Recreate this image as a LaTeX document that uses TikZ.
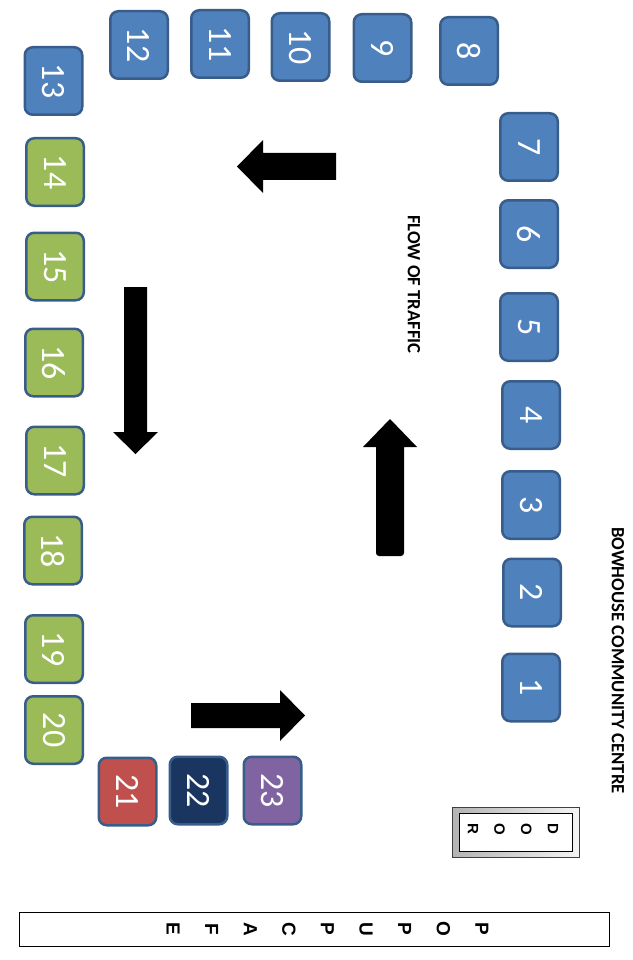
\documentclass[tikz,border=0pt]{standalone}
\usepackage{fontspec}
\setmainfont{Carlito}
\newfontfamily\stackfont{Liberation Sans}
\usetikzlibrary{shadows}
\definecolor{tblue}{HTML}{4F81BD}
\definecolor{tedge}{HTML}{385D8A}
\definecolor{tgreen}{HTML}{9BBB59}
\definecolor{tred}{HTML}{C0504D}
\definecolor{tnavy}{HTML}{1A3660}
\definecolor{tpurple}{HTML}{8064A2}
\begin{document}
\begin{tikzpicture}[x=1pt,y=-1pt,
  stall/.style={rotate=-90, draw=tedge, line width=2.5pt, rounded corners=8pt,
    minimum width=67.5pt, minimum height=57.5pt, inner sep=0pt,
    text=white, font=\fontsize{34}{34}\selectfont},
  bluestall/.style={stall, fill=tblue},
  greenstall/.style={stall, fill=tgreen},
  redstall/.style={stall, fill=tred},
  navystall/.style={stall, fill=tnavy},
  purplestall/.style={stall, fill=tpurple},
  sidetext/.style={rotate=-90, font=\bfseries\fontsize{18.7}{20}\selectfont, inner sep=0pt},
  blockarrow/.style={fill=black, draw=none}]
\useasboundingbox (0,0) rectangle (632,960);

% stalls along the right wall
\node[bluestall] (s1) at (531,687.5) {1};
\node[bluestall] (s2) at (532,592.5) {2};
\node[bluestall] (s3) at (531,505) {3};
\node[bluestall] (s4) at (531,415) {4};
\node[bluestall] (s5) at (529,327) {5};
\node[bluestall] (s6) at (529,234) {6};
\node[bluestall] (s7) at (529,147) {7};
% stalls along the top wall
\node[bluestall] (s8) at (469,51) {8};
\node[bluestall] (s9) at (382.5,48) {9};
\node[bluestall] (s10) at (300.5,47) {10};
\node[bluestall] (s11) at (220,44) {11};
\node[bluestall] (s12) at (139,45) {12};
\node[bluestall] (s13) at (53.5,81) {13};
% stalls along the left wall
\node[greenstall] (s14) at (55,172) {14};
\node[greenstall] (s15) at (55,266.5) {15};
\node[greenstall] (s16) at (54,362.5) {16};
\node[greenstall] (s17) at (55,460.5) {17};
\node[greenstall] (s18) at (53,550.5) {18};
\node[greenstall] (s19) at (54,649) {19};
\node[greenstall] (s20) at (54,730) {20};
% stalls near the bottom
\node[redstall] (s21) at (127.5,791.5) {21};
\node[navystall] (s22) at (198.5,790.5) {22};
\node[purplestall] (s23) at (272.5,790.5) {23};

% traffic arrows
\fill[blockarrow] (263,153) -- (336,153) -- (336,180) -- (263,180) -- (263,193) -- (237,166.5) -- (263,140) -- cycle;
\fill[blockarrow] (124,287) -- (147,287) -- (147,432) -- (158,432) -- (135.5,454) -- (113,432) -- (124,432) -- cycle;
\fill[blockarrow] (376,447) -- (363,447) -- (390,419) -- (417,447) -- (404,447) -- (404,553) to[out=-90,in=0] (401,556) -- (379,556) to[out=180,in=-90] (376,553) -- cycle;
\fill[blockarrow] (191,703) -- (280,703) -- (280,690) -- (305,715.5) -- (280,741) -- (280,728) -- (191,728) -- cycle;

% labels
\node[sidetext] (flow) at (414,284.5) {FLOW OF TRAFFIC};
\node[sidetext] (centre) at (618,660.5) {BOWHOUSE COMMUNITY CENTRE};

% door
\path[left color=gray!60, right color=gray!8, draw=black!75, line width=0.8pt,
  drop shadow={opacity=0.25, shadow xshift=1pt, shadow yshift=-1pt}]
  (452,807) rectangle (579,857);
\draw[fill=white, line width=1pt] (459,813) rectangle (572,851);
\node[rotate=-90, align=center, inner sep=0pt,
  font=\stackfont\bfseries\fontsize{15}{26.7}\selectfont] (door) at (513,829) {D\\O\\O\\R};

% cafe
\draw[line width=1pt] (19,912) rectangle (609,946);
\node[rotate=-90, align=center, inner sep=0pt,
  font=\stackfont\bfseries\fontsize{19}{38.6}\selectfont] (cafe) at (327.5,929) {P\\O\\P\\U\\P\\C\\A\\F\\E};
\end{tikzpicture}
\end{document}
